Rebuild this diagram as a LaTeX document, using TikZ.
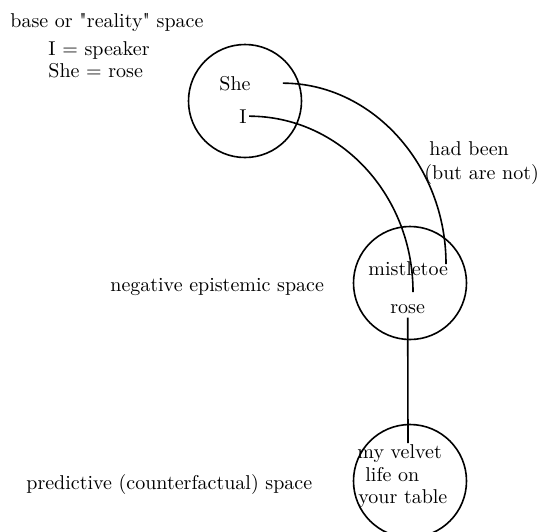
\documentclass[tikz,border=0pt]{standalone}
\usepackage{tikz}
\usetikzlibrary{positioning}

\begin{document}
\begin{tikzpicture}[
  x=0.5pt, y=-0.5pt,
  every node/.style={font=\fontsize{10}{12}\selectfont, inner sep=0pt},
  spacebox/.style={circle, draw=black, line width=0.8pt, minimum size=56.5pt},
  txt/.style={anchor=base west},
  link/.style={line width=0.8pt, color=black}
]
\useasboundingbox (0,0) rectangle (540,531);

% the three spaces
\node[spacebox] (reality) at (245,101) {};
\node[spacebox] (epistemic) at (410,283) {};
\node[spacebox] (predictive) at (410,481) {};

% side labels
\node[txt] (baselbl) at (10,27) {base or \textquotedbl reality\textquotedbl\ space};
\node[txt] (speaker) at (48,55) {I = speaker};
\node[txt] (roseeq) at (48,77) {She = rose};
\node[txt] (neglbl) at (110,291) {negative epistemic space};
\node[txt] (predlbl) at (26,489) {predictive (counterfactual) space};
\node[txt] (hadbeen) at (429,155) {had been};
\node[txt] (arenot) at (424,179) {(but are not)};

% contents of the spaces
\node[txt] (she) at (219,90) {She};
\node[txt] (i) at (239,123) {I};
\node[txt] (mistletoe) at (368,275) {mistletoe};
\node[txt] (rose) at (390,313) {rose};
\node[txt] (velvet) at (357,458) {my velvet};
\node[txt] (lifeon) at (365,481) {life on};
\node[txt] (table) at (358,503) {your table};

\coordinate (outerend) at (446,264);
\coordinate (innerend) at (413,292);
\coordinate (velvetend) at (408,443);

\draw[link] ([xshift=16pt]she.east) .. controls +(89,0) and +(0,-99) .. (outerend);
\draw[link] ([xshift=1pt]i.east) .. controls +(91,0) and +(0,-97) .. (innerend);
\draw[link] ([yshift=-2pt]rose.south) -- (velvetend);

\end{tikzpicture}
\end{document}
